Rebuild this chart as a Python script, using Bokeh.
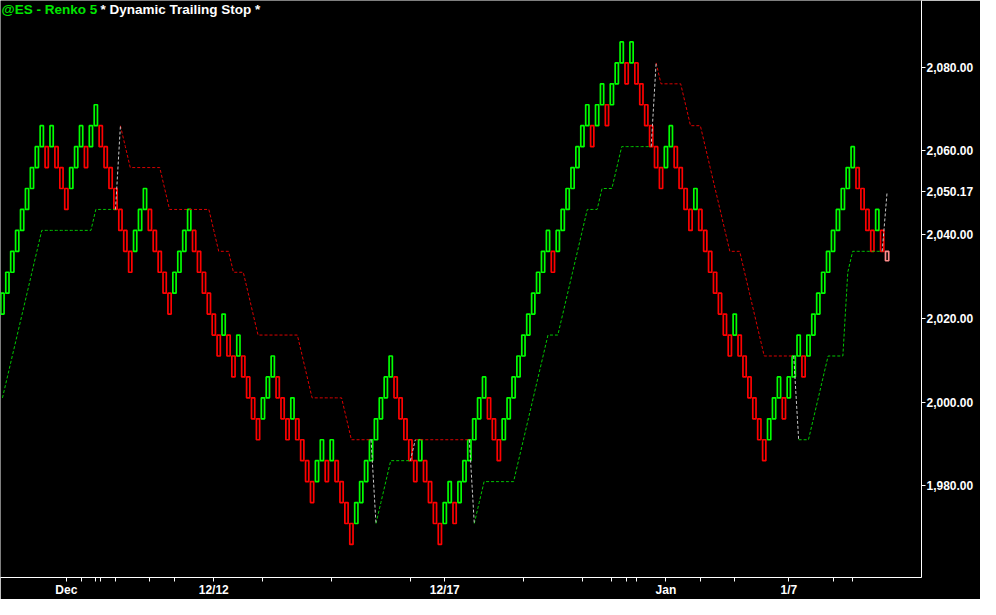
from bokeh.plotting import figure
from bokeh.models import Range1d, FixedTicker, NumeralTickFormatter, Label, ColumnDataSource, BoxAnnotation
from bokeh.embed import file_html
from bokeh.resources import INLINE

# ---------------- data ----------------
# Renko bricks (box size 5), one per column: open and close prices
brick_open = [
    2021, 2026, 2031, 2036, 2041, 2046, 2051, 2056, 2061, 2061,
    2061, 2061, 2056, 2051, 2051, 2056, 2061, 2061, 2061, 2066,
    2066, 2061, 2056, 2051, 2046, 2041, 2036, 2036, 2041, 2046,
    2046, 2041, 2036, 2031, 2026, 2026, 2031, 2036, 2041, 2041,
    2036, 2031, 2026, 2021, 2016, 2016, 2016, 2011, 2011, 2011,
    2006, 2001, 1996, 1996, 2001, 2006, 2006, 2001, 1996, 1996,
    1996, 1991, 1986, 1981, 1981, 1986, 1986, 1986, 1986, 1981,
    1976, 1971, 1971, 1976, 1981, 1986, 1991, 1996, 2001, 2006,
    2006, 2001, 1996, 1991, 1986, 1986, 1986, 1981, 1976, 1971,
    1971, 1976, 1976, 1976, 1981, 1986, 1991, 1996, 2001, 2001,
    1996, 1991, 1991, 1996, 2001, 2006, 2011, 2016, 2021, 2026,
    2031, 2036, 2036, 2036, 2041, 2046, 2051, 2056, 2061, 2066,
    2066, 2066, 2071, 2071, 2071, 2076, 2081, 2081, 2081, 2081,
    2076, 2071, 2066, 2061, 2056, 2056, 2061, 2061, 2056, 2051,
    2046, 2046, 2046, 2041, 2036, 2031, 2026, 2021, 2016, 2016,
    2016, 2011, 2006, 2001, 1996, 1991, 1991, 1996, 2001, 2001,
    2001, 2006, 2011, 2011, 2011, 2016, 2021, 2026, 2031, 2036,
    2041, 2046, 2051, 2056, 2056, 2051, 2046, 2041, 2041, 2041,
    2036,
]
brick_close = [
    2026, 2031, 2036, 2041, 2046, 2051, 2056, 2061, 2066, 2056,
    2066, 2056, 2051, 2046, 2056, 2061, 2066, 2056, 2066, 2071,
    2061, 2056, 2051, 2046, 2041, 2036, 2031, 2041, 2046, 2051,
    2041, 2036, 2031, 2026, 2021, 2031, 2036, 2041, 2046, 2036,
    2031, 2026, 2021, 2016, 2011, 2021, 2011, 2006, 2016, 2006,
    2001, 1996, 1991, 2001, 2006, 2011, 2001, 1996, 1991, 2001,
    1991, 1986, 1981, 1976, 1986, 1991, 1981, 1991, 1981, 1976,
    1971, 1966, 1976, 1981, 1986, 1991, 1996, 2001, 2006, 2011,
    2001, 1996, 1991, 1986, 1981, 1991, 1981, 1976, 1971, 1966,
    1976, 1981, 1971, 1981, 1986, 1991, 1996, 2001, 2006, 1996,
    1991, 1986, 1996, 2001, 2006, 2011, 2016, 2021, 2026, 2031,
    2036, 2041, 2031, 2041, 2046, 2051, 2056, 2061, 2066, 2071,
    2061, 2071, 2076, 2066, 2076, 2081, 2086, 2076, 2086, 2076,
    2071, 2066, 2061, 2056, 2051, 2061, 2066, 2056, 2051, 2046,
    2041, 2051, 2041, 2036, 2031, 2026, 2021, 2016, 2011, 2021,
    2011, 2006, 2001, 1996, 1991, 1986, 1996, 2001, 2006, 1996,
    2006, 2011, 2016, 2006, 2016, 2021, 2026, 2031, 2036, 2041,
    2046, 2051, 2056, 2061, 2051, 2046, 2041, 2036, 2046, 2036,
    2033.75,
]
# Dynamic trailing stop value per column
stop_value = [
    2001, 2006, 2011, 2016, 2021, 2026, 2031, 2036, 2041, 2041,
    2041, 2041, 2041, 2041, 2041, 2041, 2041, 2041, 2041, 2046,
    2046, 2046, 2046, 2046, 2066, 2061, 2056, 2056, 2056, 2056,
    2056, 2056, 2056, 2051, 2046, 2046, 2046, 2046, 2046, 2046,
    2046, 2046, 2046, 2041, 2036, 2036, 2036, 2031, 2031, 2031,
    2026, 2021, 2016, 2016, 2016, 2016, 2016, 2016, 2016, 2016,
    2016, 2011, 2006, 2001, 2001, 2001, 2001, 2001, 2001, 2001,
    1996, 1991, 1991, 1991, 1991, 1991, 1971, 1976, 1981, 1986,
    1986, 1986, 1986, 1986, 1991, 1991, 1991, 1991, 1991, 1991,
    1991, 1991, 1991, 1991, 1991, 1991, 1971, 1976, 1981, 1981,
    1981, 1981, 1981, 1981, 1981, 1986, 1991, 1996, 2001, 2006,
    2011, 2016, 2016, 2016, 2021, 2026, 2031, 2036, 2041, 2046,
    2046, 2046, 2051, 2051, 2051, 2056, 2061, 2061, 2061, 2061,
    2061, 2061, 2061, 2081, 2076, 2076, 2076, 2076, 2076, 2071,
    2066, 2066, 2066, 2061, 2056, 2051, 2046, 2041, 2036, 2036,
    2036, 2031, 2026, 2021, 2016, 2011, 2011, 2011, 2011, 2011,
    2011, 2011, 1991, 1991, 1991, 1996, 2001, 2006, 2011, 2011,
    2011, 2011, 2031, 2036, 2036, 2036, 2036, 2036, 2036, 2036,
    2050.17,
]
last_stop_text = "2,050.17"
price_ticks = [1980, 2000, 2020, 2040, 2060, 2080]
date_tick_cols = [13, 16, 19, 20, 23, 30, 35, 43, 53, 67, 83, 90,
                  106, 118, 124, 127, 129, 135, 142, 149, 160, 169, 173]
date_tick_labels = {13: "Dec", 43: "12/12", 90: "12/17", 135: "Jan", 160: "1/7"}
title_symbol = "@ES - Renko 5"
title_study = "* Dynamic Trailing Stop *"

# ---------------- styling ----------------
UP = "#00ff00"
DOWN = "#ff0000"
FORMING = "#ff8c8c"
STOP_UP = "#00c800"
STOP_DN = "#dc0000"
FLIP = "#c8c8c8"
TAG = "#e00000"
FONT = "Liberation Sans"
X_END = 187

n = len(brick_open)
cols = list(range(n))
half = 0.33
colors = []
for i in cols:
    if i == n - 1:
        colors.append(FORMING)
    elif brick_close[i] > brick_open[i]:
        colors.append(UP)
    else:
        colors.append(DOWN)

bricks = ColumnDataSource(dict(
    left=[c - half for c in cols],
    right=[c + half for c in cols],
    top=[max(o, c) for o, c in zip(brick_open, brick_close)],
    bottom=[min(o, c) for o, c in zip(brick_open, brick_close)],
    color=colors,
))

p = figure(width=980, height=599, x_range=Range1d(-0.4, X_END), y_range=Range1d(1958.1, 2095.9),
           output_backend="svg", toolbar_location=None, y_axis_location="right",
           background_fill_color="black", border_fill_color="black", outline_line_color=None,
           min_border_left=0, min_border_top=0, min_border_right=59, min_border_bottom=18)
p.grid.visible = False

p.quad(left="left", right="right", top="top", bottom="bottom", source=bricks,
       fill_color=None, line_color="color", line_width=1.7)

# trailing stop: side from position relative to the brick
side = ["U" if stop_value[i] <= min(brick_open[i], brick_close[i]) else "D" for i in cols]
runs = []
start = 0
for i in range(1, n + 1):
    if i == n or side[i] != side[start]:
        runs.append((start, i - 1, side[start]))
        start = i
for a, b, s in runs:
    if b > a:
        p.line(cols[a:b + 1], stop_value[a:b + 1], line_color=STOP_UP if s == "U" else STOP_DN,
               line_width=1, line_dash="3 2")
fx0, fy0, fx1, fy1 = [], [], [], []
for (a, b, s), (a2, b2, s2) in zip(runs[:-1], runs[1:]):
    fx0.append(b); fy0.append(stop_value[b]); fx1.append(a2); fy1.append(stop_value[a2])
p.segment(x0=fx0, y0=fy0, x1=fx1, y1=fy1, line_color=FLIP, line_width=1, line_dash="3 2")

# axes (the last stop value is shown as an extra labelled tick on the price axis)
ya = p.yaxis[0]
ya.ticker = FixedTicker(ticks=price_ticks + [stop_value[-1]])
ya.formatter = NumeralTickFormatter(format="0,0.00")
ya.major_label_overrides = {stop_value[-1]: last_stop_text}
ya.axis_line_color = "white"
ya.major_tick_line_color = "white"
ya.major_tick_in = 0
ya.major_tick_out = 4
ya.minor_tick_line_color = None
ya.major_label_standoff = 1
ya.major_label_text_color = "white"
ya.major_label_text_font = FONT
ya.major_label_text_font_size = "12px"
ya.major_label_text_font_style = "bold"

xa = p.xaxis[0]
xa.ticker = FixedTicker(ticks=date_tick_cols)
xa.major_label_overrides = {c: date_tick_labels.get(c, "") for c in date_tick_cols}
xa.axis_line_color = "white"
xa.major_tick_line_color = "white"
xa.major_tick_in = 0
xa.major_tick_out = 4
xa.minor_tick_line_color = None
xa.major_label_standoff = 1
xa.major_label_text_color = "white"
xa.major_label_text_font = FONT
xa.major_label_text_font_size = "12px"
xa.major_label_text_font_style = "bold"

# red box behind the last-stop tick label (side-panel annotation, drawn below the axis)
p.add_layout(BoxAnnotation(left=X_END + 0.15, right=X_END + 12.5,
                           bottom=stop_value[-1] - 1.5, top=stop_value[-1] + 1.5,
                           fill_color=TAG, fill_alpha=1.0, line_color=None, level="underlay"), "right")

# titles
p.add_layout(Label(x=-0.4, y=2095.9, x_offset=1, y_offset=-1, text=title_symbol, text_color="#00e600",
                   text_font=FONT, text_font_size="13.5px", text_font_style="bold", text_baseline="top"))
p.add_layout(Label(x=-0.4, y=2095.9, x_offset=100, y_offset=-1, text=title_study, text_color="white",
                   text_font=FONT, text_font_size="13.5px", text_font_style="bold", text_baseline="top"))

open("out.html", "w").write(file_html(p, INLINE))
